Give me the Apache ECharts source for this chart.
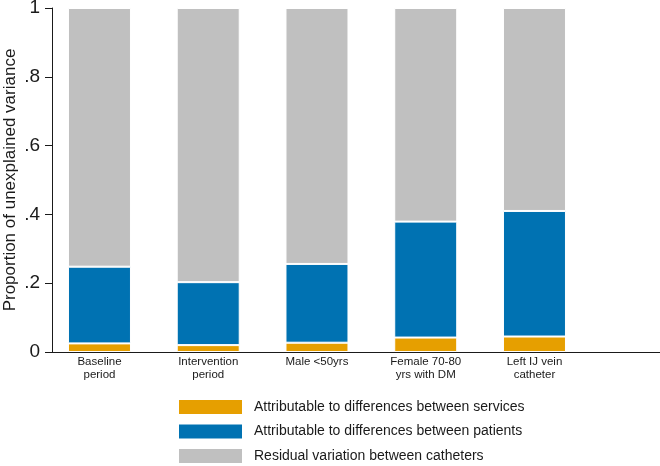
<!DOCTYPE html>
<html>
<head>
<meta charset="utf-8">
<script src="https://cdn.jsdelivr.net/npm/echarts@6/dist/echarts.min.js"></script>
<style>html,body{margin:0;padding:0;background:#fff}#c{width:660px;height:466px}</style>
</head>
<body>
<div id="c"></div>
<script>
const categories = ['Baseline\nperiod', 'Intervention\nperiod', 'Male <50yrs', 'Female 70-80\nyrs with DM', 'Left IJ vein\ncatheter'];
const services = [0.025, 0.020, 0.027, 0.042, 0.045];
const patients = [0.223, 0.183, 0.229, 0.337, 0.365];
const residual = services.map((s, i) => 1 - s - patients[i]);
const yTicks = ['0', '.2', '.4', '.6', '.8', '1'];
const seriesNames = ['Attributable to differences between services', 'Attributable to differences between patients', 'Residual variation between catheters'];
const colors = ['#E69F00', '#0072B2', '#C0C0C0'];

const font = 'Liberation Sans, Arial, Helvetica, sans-serif';
const ink = '#1a1a1a';
const chart = echarts.init(document.getElementById('c'), null, {renderer: 'canvas'});
const mk = (name, data, color) => ({
  name, type: 'bar', stack: 'total', data, barWidth: 63,
  xAxisIndex: 0, yAxisIndex: 0,
  itemStyle: {color, borderColor: '#fff', borderWidth: 1},
  emphasis: {disabled: true}
});
chart.setOption({
  animation: false,
  color: colors,
  grid: [
    {left: 45.1, width: 543.75, top: 8, bottom: 114, containLabel: false, outerBoundsMode: 'none'},
    {left: 52, right: 0, top: 8, bottom: 114, containLabel: false, outerBoundsMode: 'none'}
  ],
  xAxis: [
    {
      type: 'category', gridIndex: 0, data: categories,
      axisLine: {show: false}, axisTick: {show: false},
      axisLabel: {fontFamily: font, fontSize: 11.5, color: ink, lineHeight: 12.5, margin: 4, interval: 0}
    },
    {
      type: 'value', gridIndex: 1, min: 0, max: 1,
      splitLine: {show: false}, axisTick: {show: false}, axisLabel: {show: false},
      axisLine: {show: true, lineStyle: {color: ink, width: 1}}
    }
  ],
  yAxis: [
    {type: 'value', gridIndex: 0, min: 0, max: 1, show: false},
    {
      type: 'value', gridIndex: 1, min: 0, max: 1, interval: 0.2,
      name: 'Proportion of unexplained variance', nameLocation: 'middle', nameGap: 33,
      nameMoveOverlap: false,
      nameTextStyle: {fontFamily: font, fontSize: 17, color: ink},
      splitLine: {show: false},
      axisLine: {show: true, onZero: false, lineStyle: {color: ink, width: 1}},
      axisTick: {show: true, length: 7, lineStyle: {color: ink}},
      axisLabel: {
        formatter: v => yTicks[Math.round(v * 5)],
        fontFamily: font, fontSize: 19, color: ink, margin: 12
      }
    }
  ],
  legend: {
    orient: 'vertical', left: 177, top: 398, padding: 0, height: 120,
    itemWidth: 65, itemHeight: 16, itemGap: 6.5, icon: 'rect',
    data: seriesNames,
    textStyle: {fontFamily: font, fontSize: 14, color: ink, lineHeight: 16, padding: [0, 0, 0, 6]}
  },
  series: [
    mk(seriesNames[0], services, colors[0]),
    mk(seriesNames[1], patients, colors[1]),
    mk(seriesNames[2], residual, colors[2])
  ]
});
</script>
</body>
</html>
